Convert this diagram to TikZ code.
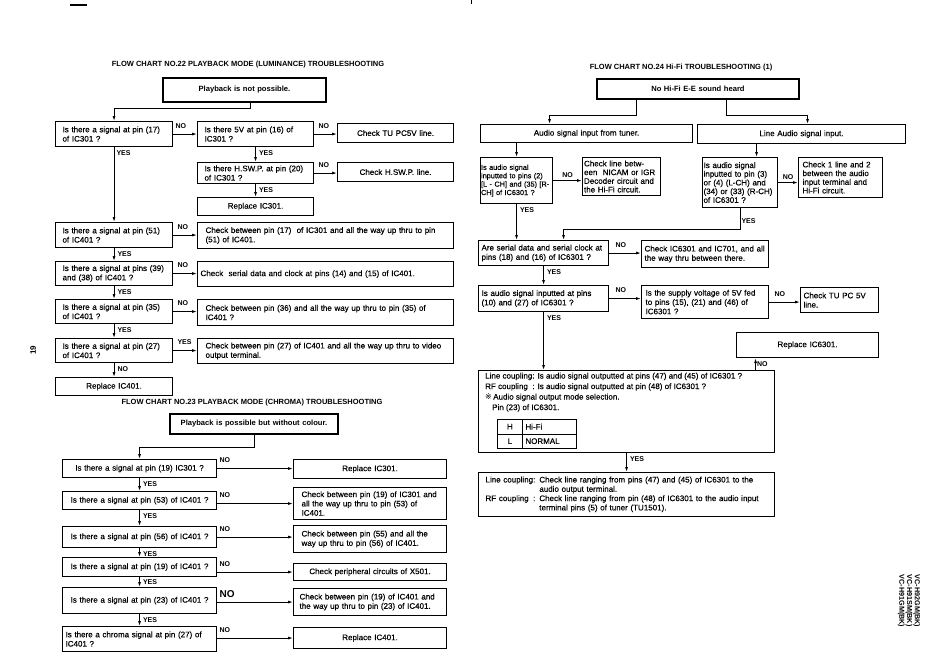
\documentclass[tikz,border=0pt]{standalone}
\usepackage{fontspec}
\setmainfont{Liberation Sans}[UprightFeatures={FakeBold=0.35}]
\newfontfamily\refmarkfont{DejaVu Sans}
\usetikzlibrary{arrows.meta}

\newcommand{\bodysize}{\fontsize{8}{9.3}\selectfont}
\newcommand{\headsize}{\fontsize{7.6}{9}\selectfont\bfseries}
\newcommand{\titlesize}{\fontsize{7.5}{9}\selectfont\bfseries}
\newcommand{\labsize}{\fontsize{7}{7}\selectfont\bfseries}

\tikzset{
  box/.style={draw, line width=1.1pt, anchor=north west, inner xsep=6pt, inner ysep=1pt, font=\bodysize, align=left},
  cbox/.style={box, align=center, inner xsep=3pt},
  startbox/.style={box, line width=1.9pt, align=center, inner xsep=3pt, font=\headsize},
  arr/.style={line width=0.9pt, -{Latex[length=5pt,width=3pt]}},
  lab/.style={font=\labsize, inner sep=1pt},
  nolab/.style={lab, pos=0, anchor=south west, xshift=1pt, yshift=4.5pt},
  yeslab/.style={lab, pos=0, anchor=north west, xshift=2pt, yshift=-2pt},
  title/.style={font=\titlesize},
  cell/.style={draw, line width=0.8pt, anchor=north west, minimum height=14.5pt, inner sep=0pt, font=\bodysize}
}

\begin{document}
\begin{tikzpicture}[x=1pt, y=-1pt]
  \useasboundingbox (0,0) rectangle (950,670);
  % page marks
  \draw[line width=1.2pt] (70,5) -- (87,5);
  \draw[line width=0.5pt] (471,0) -- (471,4);
  \node[font=\fontsize{8}{8}\selectfont\bfseries, rotate=90] (pageno) at (33,350) {19};
  \node[font=\fontsize{7.2}{6.3}\selectfont\bfseries, rotate=-90, align=left] (model) at (909,601) {VC-H92GM(BK)\\VC-H91SM(BK)\\VC-H91GM(BK)};

  % ---- flow chart 22
  \node[title] (t22) at (248,65) {FLOW CHART NO.22 PLAYBACK MODE (LUMINANCE) TROUBLESHOOTING};
  \node[startbox, text width=157pt, minimum height=24pt] (s22) at (162,77) {Playback is not possible.};
  \node[box, inner xsep=7pt, text width=103pt, minimum height=25pt] (q1) at (55,121) {Is there a signal at pin (17)\\of IC301 ?};
  \node[box, inner xsep=7pt, text width=102pt, minimum height=25pt] (q2) at (197,121) {Is there 5V at pin (16) of\\IC301 ?};
  \node[cbox, text width=110pt, minimum height=19pt] (c2) at (337,123) {Check TU PC5V line.};
  \node[box, inner xsep=7pt, text width=102pt, minimum height=21pt] (q3) at (197,162) {Is there H.SW.P. at pin (20)\\of IC301 ?};
  \node[cbox, text width=110pt, minimum height=19pt] (c3) at (337,162) {Check H.SW.P. line.};
  \node[cbox, text width=110pt, minimum height=18pt] (r3) at (197,197) {Replace IC301.};
  \node[box, inner xsep=7pt, text width=103pt, minimum height=25pt] (q4) at (55,222) {Is there a signal at pin (51)\\of IC401 ?};
  \node[box, inner xsep=8pt, text width=240pt, minimum height=26pt] (c4) at (197,222) {Check between pin (17)~ of IC301 and all the way up thru to pin\\(51) of IC401.};
  \node[box, inner xsep=7pt, text width=103pt, minimum height=24pt] (q5) at (55,261) {Is there a signal at pins (39)\\and (38) of IC401 ?};
  \node[box, inner xsep=3pt, text width=250pt, minimum height=25pt] (c5) at (197,261) {Check~ serial data and clock at pins (14) and (15) of IC401.};
  \node[box, inner xsep=7pt, text width=103pt, minimum height=24pt] (q6) at (55,299) {Is there a signal at pin (35)\\of IC401 ?};
  \node[box, inner xsep=8pt, text width=240pt, minimum height=26pt] (c6) at (197,299) {Check between pin (36) and all the way up thru to pin (35) of\\IC401 ?};
  \node[box, inner xsep=7pt, text width=103pt, minimum height=24pt] (q7) at (55,338) {Is there a signal at pin (27)\\of IC401 ?};
  \node[box, inner xsep=8pt, text width=240pt, minimum height=25pt] (c7) at (197,338) {Check between pin (27) of IC401 and all the way up thru to video\\output terminal.};
  \node[cbox, text width=111pt, minimum height=18pt] (r7) at (55,377) {Replace IC401.};

  \draw[arr] ([xshift=5.5pt]s22.south) -- ++(0,6) -| (q1.north);
  \draw[arr] (q1.east) -- (q2.west) node[nolab]{NO};
  \draw[arr] (q2.east) -- (q2.east -| c2.west) node[nolab, xshift=2pt]{NO};
  \draw[arr] (q2.south) -- (q3.north) node[yeslab]{YES};
  \draw[arr] (q3.east) -- (q3.east -| c3.west) node[nolab, xshift=2pt]{NO};
  \draw[arr] (q3.south) -- (r3.north) node[yeslab]{YES};
  \draw[arr] (q1.south) -- (q4.north) node[yeslab, xshift=-1pt]{YES};
  \draw[arr] (q4.east) -- (q4.east -| c4.west) node[nolab, xshift=2pt]{NO};
  \draw[arr] (q4.south) -- (q5.north) node[yeslab]{YES};
  \draw[arr] (q5.east) -- (q5.east -| c5.west) node[nolab, xshift=2pt]{NO};
  \draw[arr] (q5.south) -- (q6.north) node[yeslab]{YES};
  \draw[arr] (q6.east) -- (q6.east -| c6.west) node[nolab, xshift=2pt]{NO};
  \draw[arr] (q6.south) -- (q7.north) node[yeslab]{YES};
  \draw[arr] (q7.east) -- (q7.east -| c7.west) node[nolab, xshift=2pt]{YES};
  \draw[arr] (q7.south) -- (r7.north) node[yeslab]{NO};

  % ---- flow chart 23
  \node[title] (t23) at (252,403) {FLOW CHART NO.23 PLAYBACK MODE (CHROMA) TROUBLESHOOTING};
  \node[startbox, text width=162pt, minimum height=20pt] (s23) at (169,413) {Playback is possible but without colour.};
  \node[cbox, text width=148pt, minimum height=18pt] (q8) at (62,459) {Is there a signal at pin (19) IC301 ?};
  \node[cbox, text width=147pt, minimum height=19pt] (c8) at (293,459) {Replace IC301.};
  \node[cbox, text width=148pt, minimum height=18pt] (q9) at (62,491) {Is there a signal at pin (53) of IC401 ?};
  \node[box, inner xsep=8pt, text width=137pt, minimum height=32pt] (c9) at (293,487) {Check between pin (19) of IC301 and\\all the way up thru to pin (53) of\\IC401.};
  \node[cbox, text width=148pt, minimum height=21pt] (q10) at (62,526) {Is there a signal at pin (56) of IC401 ?};
  \node[box, inner xsep=8pt, text width=137pt, minimum height=27pt] (c10) at (293,525) {Check between pin (55) and all the\\way up thru to pin (56) of IC401.};
  \node[cbox, text width=148pt, minimum height=19pt] (q11) at (62,557) {Is there a signal at pin (19) of IC401 ?};
  \node[cbox, text width=147pt, minimum height=17pt] (c11) at (293,563) {Check peripheral circuits of X501.};
  \node[cbox, text width=148pt, minimum height=26pt] (q12) at (62,587) {Is there a signal at pin (23) of IC401 ?};
  \node[box, inner xsep=6pt, text width=141pt, minimum height=27pt] (c12) at (293,588) {Check between pin (19) of IC401 and\\the way up thru to pin (23) of IC401.};
  \node[box, inner xsep=3pt, text width=148pt, minimum height=25pt] (q13) at (62,626) {Is there a chroma signal at pin (27) of\\IC401 ?};
  \node[cbox, text width=147pt, minimum height=21pt] (c13) at (293,627) {Replace IC401.};

  \draw[arr] (s23.south) -- ++(0,13) -| (q8.north);
  \draw[arr] (q8.east) -- (q8.east -| c8.west) node[nolab]{NO};
  \draw[arr] (q8.south) -- (q9.north) node[yeslab]{YES};
  \draw[arr] (q9.east |- c9.west) -- (c9.west) node[nolab]{NO};
  \draw[arr] (q9.south) -- (q10.north) node[yeslab]{YES};
  \draw[arr] (q10.east) -- (q10.east -| c10.west) node[nolab]{NO};
  \draw[arr] (q10.south) -- (q11.north) node[yeslab]{YES};
  \draw[arr] (q11.east |- c11.west) -- (c11.west) node[nolab]{NO};
  \draw[arr] (q11.south) -- (q12.north) node[yeslab, yshift=1pt]{YES};
  \draw[arr] (q12.east |- c12.west) -- (c12.west) node[nolab, font=\fontsize{10}{10}\selectfont\bfseries, yshift=-1pt]{NO};
  \draw[arr] (q12.south) -- (q13.north) node[yeslab]{YES};
  \draw[arr] (q13.east |- c13.west) -- (c13.west) node[nolab]{NO};

  % ---- flow chart 24
  \node[title] (t24) at (681,68) {FLOW CHART NO.24 Hi-Fi TROUBLESHOOTING (1)};
  \node[startbox, text width=196pt, minimum height=20pt] (s24) at (596,78) {No Hi-Fi E-E sound heard};
  \node[cbox, text width=206pt, minimum height=18pt] (tuner) at (480,124) {Audio signal input from tuner.};
  \node[cbox, text width=202pt, minimum height=19pt] (linein) at (697,124) {Line Audio signal input.};
  \node[box, inner xsep=0.5pt, text width=71pt, minimum height=46pt, font=\fontsize{7.3}{8.4}\selectfont] (q24a) at (480,157) {Is audio signal\\inputted to pins (2)\\{}[L - CH] and (35) [R-\\CH] of IC6301 ?};
  \node[box, inner xsep=1.5pt, text width=75pt, minimum height=38pt, font=\fontsize{8}{8.7}\selectfont] (c24a) at (582,157) {Check line betw-\\een~ NICAM or IGR\\Decoder circuit and\\the Hi-Fi circuit.};
  \node[box, inner xsep=1pt, text width=73pt, minimum height=50pt, font=\fontsize{8}{8.7}\selectfont] (q24b) at (702,157) {Is audio signal\\inputted to pin (3)\\or (4) (L-CH) and\\(34) or (33) (R-CH)\\of IC6301 ?};
  \node[box, inner xsep=4pt, text width=76pt, minimum height=40pt, font=\fontsize{8}{8.7}\selectfont] (c24b) at (798,157) {Check 1 line and 2\\between the audio\\input terminal and\\Hi-Fi circuit.};
  \node[box, inner xsep=3pt, text width=124pt, minimum height=25pt] (q24c) at (478,240) {Are serial data and serial clock at\\pins (18) and (16) of IC6301 ?};
  \node[box, inner xsep=3pt, text width=121pt, minimum height=27pt] (c24c) at (641,240) {Check IC6301 and IC701, and all\\the way thru between there.};
  \node[box, inner xsep=3pt, text width=124pt, minimum height=26pt] (q24d) at (478,285) {Is audio signal inputted at pins\\(10) and (27) of IC6301 ?};
  \node[box, inner xsep=4pt, text width=119pt, minimum height=33pt] (c24d) at (641,285) {Is the supply voltage of 5V fed\\to pins (15), (21) and (46) of\\IC6301 ?};
  \node[box, inner xsep=3pt, text width=72pt, minimum height=25pt] (c24e) at (800,287) {Check TU PC 5V\\line.};
  \node[cbox, text width=136pt, minimum height=25pt] (r24) at (736,332) {Replace IC6301.};
  \node[box, minimum width=296pt, minimum height=82pt] (q24e) at (478,370) {};
  \node[anchor=north west, inner sep=0pt, font=\fontsize{8}{10.5}\selectfont] (q24etxt) at (485,371) {%
    \begin{tabular}[t]{@{}l@{}l@{}}
      Line coupling&: Is audio signal outputted at pins (47) and (45) of IC6301 ?\\
      RF coupling&: Is audio signal outputted at pin (48) of IC6301 ?\\
      \multicolumn{2}{@{}l@{}}{{\refmarkfont ※}\,Audio signal output mode selection.}\\
      \multicolumn{2}{@{}l@{}}{\hspace*{7pt}Pin (23) of IC6301.}
    \end{tabular}};
  \node[cell, minimum width=25pt] (th) at (497,419) {H};
  \node[cell, text width=48pt, inner xsep=3pt, align=left] (thv) at (522,419) {Hi-Fi};
  \node[cell, minimum width=25pt] (tl) at (497,433.5) {L};
  \node[cell, text width=48pt, inner xsep=3pt, align=left] (tlv) at (522,433.5) {NORMAL};
  \node[box, inner xsep=7pt, text width=282pt, minimum height=44pt] (fin) at (478,472) {%
    \begin{tabular}{@{}l@{}l@{}}
      Line coupling~&: Check line ranging from pins (47) and (45) of IC6301 to the\\
      &\phantom{: }audio output terminal.\\
      RF coupling&: Check line ranging from pin (48) of IC6301 to the audio input\\
      &\phantom{: }terminal pins (5) of tuner (TU1501).
    \end{tabular}};

  \draw[arr] ([xshift=-62pt]s24.south) -- ++(0,16) -| ([xshift=-37pt]tuner.north);
  \draw[arr] ([xshift=28pt]s24.south) -- ++(0,16) -| ([xshift=6pt]linein.north);
  \draw[arr] (tuner.south -| q24a.north) -- (q24a.north);
  \coordinate (lin) at ([xshift=16.5pt]q24b.north);
  \draw[arr] (linein.south -| lin) -- (lin);
  \draw[arr] (q24a.east) -- (q24a.east -| c24a.west) node[lab, midway, above=1.5pt]{NO};
  \draw[arr] (q24b.east) -- (q24b.east -| c24b.west) node[lab, midway, above=1.5pt]{NO};
  \draw[arr] (q24a.south) -- (q24a.south |- q24c.north) node[yeslab]{YES};
  \draw[arr] (q24b.south) -- ++(0,21) node[lab, pos=0.6, right]{YES} -| ([xshift=20pt]q24c.north);
  \draw[arr] (q24c.east) -- (q24c.east -| c24c.west) node[nolab, xshift=4pt]{NO};
  \draw[arr] (q24c.south) -- (q24d.north) node[yeslab]{YES};
  \draw[arr] (q24d.east) -- (q24d.east -| c24d.west) node[nolab, xshift=4pt]{NO};
  \draw[arr] (c24d.east) -- (c24d.east -| c24e.west) node[nolab, xshift=3pt]{NO};
  \draw[arr] (q24d.south) -- (q24d.south |- q24e.north) node[yeslab]{YES};
  \coordinate (rin) at ([xshift=-52pt]r24.south);
  \draw[arr] (rin |- q24e.north) -- (rin) node[lab, midway, right]{NO};
  \draw[arr] (q24e.south) -- (fin.north) node[yeslab]{YES};
\end{tikzpicture}
\end{document}
